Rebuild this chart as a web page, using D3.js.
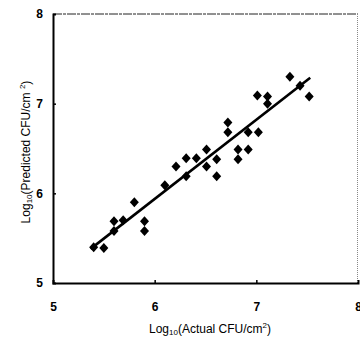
<!DOCTYPE html>
<html>
<head>
<meta charset="utf-8">
<script src="https://cdn.jsdelivr.net/npm/d3@7"></script>
<style>
  body { margin: 0; background: #fff; }
  svg { display: block; }
  text { font-family: "Liberation Sans", Arial, sans-serif; fill: #000; }
</style>
</head>
<body>
<svg id="chart"></svg>
<script>
// actual vs predicted log10 CFU/cm2
var actualLog = [5.40, 5.50, 5.60, 5.60, 5.69, 5.80, 5.90, 5.90, 6.10, 6.21,
                 6.31, 6.31, 6.41, 6.51, 6.51, 6.61, 6.61, 6.72, 6.72, 6.82,
                 6.82, 6.92, 6.92, 7.02, 7.01, 7.11, 7.11, 7.33, 7.43, 7.52];
var predictedLog = [5.40, 5.39, 5.58, 5.69, 5.70, 5.90, 5.69, 5.58, 6.09, 6.30,
                    6.19, 6.39, 6.39, 6.49, 6.30, 6.38, 6.19, 6.79, 6.68, 6.49,
                    6.38, 6.49, 6.68, 6.68, 7.09, 7.08, 7.00, 7.30, 7.20, 7.08];
var fitSlope = 0.883, fitIntercept = 0.639;
var fitRange = [5.37, 7.53];
var xTicks = [5, 6, 7, 8];
var yTicks = [5, 6, 7, 8];

var W = 360, H = 341;
var margin = {top: 14, right: 2, bottom: 58, left: 53},
    width = W - margin.left - margin.right,
    height = H - margin.top - margin.bottom;

var svg = d3.select("#chart").attr("width", W).attr("height", H);
var g = svg.append("g").attr("transform", `translate(${margin.left}, ${margin.top})`);

var x = d3.scaleLinear().domain([5, 8]).range([0, width]);
var y = d3.scaleLinear().domain([5, 8]).range([height, 0]);

// frame: top and right thin, left and bottom heavy
g.append("line").attr("x1", 0).attr("x2", width).attr("y1", 0).attr("y2", 0)
  .attr("stroke", "#222").attr("stroke-width", 1).attr("stroke-dasharray", "9,1,3,1");
g.append("line").attr("x1", width - 0.5).attr("x2", width - 0.5).attr("y1", 0).attr("y2", height)
  .attr("stroke", "#888").attr("stroke-width", 1).attr("stroke-dasharray", "1,1");

var xAxis = g.append("g")
  .attr("transform", `translate(0, ${height})`)
  .call(d3.axisBottom(x).tickValues(xTicks).tickSize(-3).tickPadding(19).tickFormat(d3.format("d")));
var yAxis = g.append("g")
  .call(d3.axisLeft(y).tickValues(yTicks).tickSize(-3).tickPadding(10).tickFormat(d3.format("d")));

[xAxis, yAxis].forEach(function (a) {
  a.select(".domain").attr("stroke", "#000").attr("stroke-width", 2);
  a.selectAll(".tick line").attr("stroke", "#000").attr("stroke-width", 1.5);
  a.selectAll(".tick text").attr("font-size", 12).attr("font-weight", "bold")
    .style("font-family", "'Liberation Sans', Arial, sans-serif");
});
xAxis.selectAll(".tick").filter(function (d) { return d === 5 || d === 8; }).select("line").remove();
yAxis.selectAll(".tick").filter(function (d) { return d === 5 || d === 8; }).select("line").remove();

// regression line
var fitLine = d3.line().x(d => x(d)).y(d => y(fitSlope * d + fitIntercept));
g.append("path")
  .datum(fitRange)
  .attr("d", fitLine)
  .attr("fill", "none")
  .attr("stroke", "#000")
  .attr("stroke-width", 2.6);

// diamond markers
var pts = actualLog.map((a, i) => ({a: a, p: predictedLog[i]}));
g.selectAll("path.pt")
  .data(pts)
  .enter().append("path")
  .attr("class", "pt")
  .attr("d", "M0,-5L4.5,0L0,5L-4.5,0Z")
  .attr("transform", d => `translate(${x(d.a)}, ${y(d.p)})`)
  .attr("fill", "#000");

// axis titles
var xt = svg.append("text")
  .attr("x", 210).attr("y", 333)
  .attr("text-anchor", "middle").attr("font-size", 12);
xt.append("tspan").text("Log");
xt.append("tspan").attr("font-size", 8).attr("dy", 2).text("10");
xt.append("tspan").attr("dy", -2).text("(Actual CFU/cm");
xt.append("tspan").attr("font-size", 8).attr("dy", -5).text("2");
xt.append("tspan").attr("dy", 5).text(")");

var yt = svg.append("text")
  .attr("transform", "translate(30, 152) rotate(-90)")
  .attr("text-anchor", "middle").attr("font-size", 12);
yt.append("tspan").text("Log");
yt.append("tspan").attr("font-size", 8).attr("dy", 2).text("10");
yt.append("tspan").attr("dy", -2).text("(Predicted CFU/cm ");
yt.append("tspan").attr("font-size", 8).attr("dy", -5).text("2");
yt.append("tspan").attr("dy", 5).text(")");
</script>
</body>
</html>
